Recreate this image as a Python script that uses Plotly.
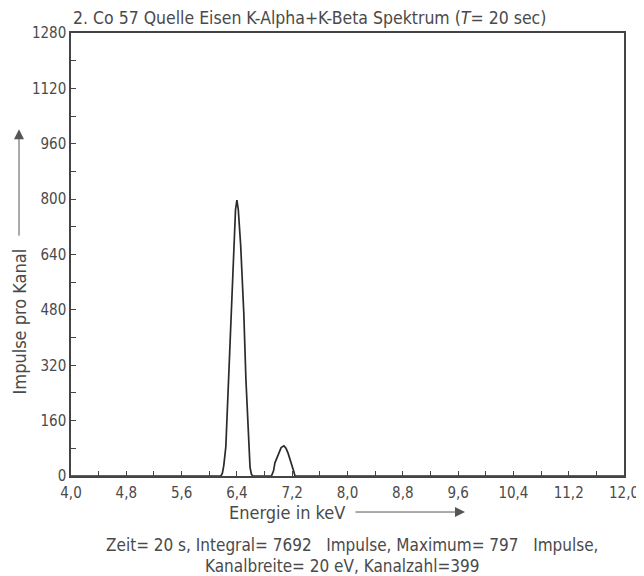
import plotly.graph_objects as go

# Spectrum (energy keV, counts per channel)
energy = [4.0, 6.10, 6.17, 6.19, 6.21, 6.24, 6.28, 6.31, 6.35, 6.38, 6.40, 6.42,
          6.455, 6.50, 6.53, 6.57, 6.59, 6.61, 6.63, 6.90, 6.93, 6.95, 7.00,
          7.04, 7.08, 7.11, 7.14, 7.19, 7.22, 7.24, 12.0]
counts = [0, 0, 0, 8, 30, 85, 280, 470, 665, 770, 797, 770,
          665, 470, 280, 85, 25, 5, 0, 0, 15, 38, 66,
          82, 87, 80, 66, 38, 15, 0, 0]

x_tickvals = [4.0, 4.4, 4.8, 5.2, 5.6, 6.0, 6.4, 6.8, 7.2, 7.6, 8.0, 8.4, 8.8,
              9.2, 9.6, 10.0, 10.4, 10.8, 11.2, 11.6, 12.0]
x_ticktext = ["4,0", "", "4,8", "", "5,6", "", "6,4", "", "7,2", "", "8,0", "",
              "8,8", "", "9,6", "", "10,4", "", "11,2", "", "12,0"]
y_tickvals = [0, 80, 160, 240, 320, 400, 480, 560, 640, 720, 800, 880, 960,
              1040, 1120, 1200, 1280]
y_ticktext = ["0", "", "160", "", "320", "", "480", "", "640", "", "800", "",
              "960", "", "1120", "", "1280"]

title_text = "2. Co 57 Quelle Eisen K-Alpha+K-Beta Spektrum (<i>T</i>= 20 sec)"
x_title = "Energie in keV"
y_title = "Impulse pro Kanal"
info_line1 = "Zeit= 20 s, Integral= 7692   Impulse, Maximum= 797   Impulse,"
info_line2 = "Kanalbreite= 20 eV, Kanalzahl=399"

FONT = "DejaVu Sans Condensed, Liberation Sans Narrow, DejaVu Sans, sans-serif"
TXT = "#4a4a4a"

fig = go.Figure()
fig.add_trace(go.Scatter(x=energy, y=counts, mode="lines",
                         line=dict(color="#2b2b2b", width=1.7),
                         hoverinfo="skip", showlegend=False))

# page body adds an 8px offset; margins compensate for it
fig.update_layout(
    width=644, height=576,
    margin=dict(l=63, r=28, t=25, b=108),
    paper_bgcolor="white", plot_bgcolor="white",
    font=dict(family=FONT, size=14, color=TXT),
    showlegend=False,
)
fig.update_xaxes(range=[4.0, 12.0], tickvals=x_tickvals, ticktext=x_ticktext,
                 ticks="inside", ticklen=5, tickwidth=1, tickcolor="#444",
                 showline=True, linecolor="#444", linewidth=1.5, mirror=True,
                 showgrid=False, zeroline=False, ticklabelstandoff=2,
                 tickfont=dict(size=15, color=TXT))
fig.update_yaxes(range=[0, 1280], tickvals=y_tickvals, ticktext=y_ticktext,
                 ticks="inside", ticklen=5, tickwidth=1, tickcolor="#444",
                 showline=True, linecolor="#444", linewidth=1.5, mirror=True,
                 showgrid=False, zeroline=False,
                 tickfont=dict(size=15, color=TXT))

ann = []
ann.append(dict(text=title_text, xref="paper", yref="paper", x=0.0, y=1.0,
                xanchor="left", yanchor="bottom", yshift=3, showarrow=False,
                font=dict(size=17.5, color=TXT)))
ann.append(dict(text=y_title, xref="paper", yref="paper", x=-0.094, y=0.349,
                xanchor="center", yanchor="middle",
                textangle=-90, showarrow=False, font=dict(size=18, color=TXT)))
ann.append(dict(text="", xref="paper", yref="paper", x=-0.094, y=0.783,
                ax=0, ay=108, showarrow=True, arrowhead=2, arrowsize=2,
                arrowwidth=1, arrowcolor="#555"))
ann.append(dict(text=x_title, xref="paper", yref="paper", x=0.3915, y=-0.0813,
                xanchor="center", yanchor="middle",
                showarrow=False, font=dict(size=18, color=TXT)))
ann.append(dict(text="", xref="paper", yref="paper", x=0.7125, y=-0.0813,
                ax=-111, ay=0, showarrow=True, arrowhead=2, arrowsize=2,
                arrowwidth=1, arrowcolor="#555"))
ann.append(dict(text=info_line1, xref="paper", yref="paper", x=0.508, y=-0.1558,
                xanchor="center", yanchor="middle",
                showarrow=False, font=dict(size=17, color=TXT)))
ann.append(dict(text=info_line2, xref="paper", yref="paper", x=0.49, y=-0.203,
                xanchor="center", yanchor="middle",
                showarrow=False, font=dict(size=17, color=TXT)))
fig.update_layout(annotations=ann)

fig.write_html("out.html")
